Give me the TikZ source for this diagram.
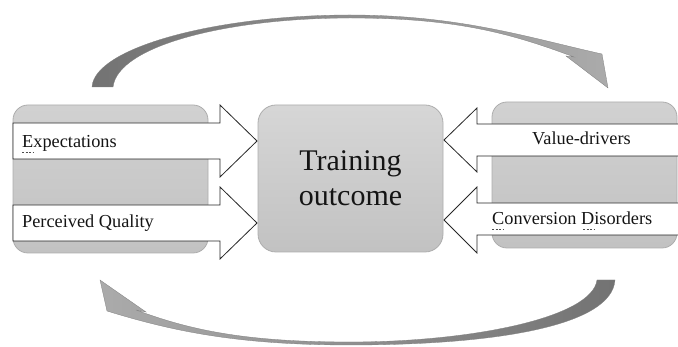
\documentclass[tikz,border=0pt]{standalone}
\usepackage{fontspec}
\setmainfont{Liberation Serif}
\newfontfamily\tnrfont{Liberation Serif}
\begin{document}
\begin{tikzpicture}[x=1pt,y=-1pt]
\useasboundingbox (0,0) rectangle (678,347);
\tikzset{
  sidebox/.style={draw=black!32, top color=black!18, bottom color=black!24, line width=0.8pt, rounded corners=15pt, inner sep=0pt},
  centerbox/.style={draw=black!32, top color=black!16, bottom color=black!24, line width=0.8pt, rounded corners=18pt, align=center, inner sep=0pt, font=\tnrfont\fontsize{30}{35}\selectfont, text=black!92},
  blockarrow/.style={draw=black!85, fill=white, line width=0.8pt, line join=miter},
  lbl/.style={font=\tnrfont\fontsize{18.3}{20}\selectfont, text=black!92, inner sep=0pt},
  squiggle/.style={draw=black!70, line width=0.5pt, dash pattern=on 2pt off 1.5pt},
  cycleedge/.style={draw=black!50, line width=0.3pt}
}
% side boxes and centre box
\node[sidebox, minimum width=195pt, minimum height=148pt] (leftbox) at (110.5,179) {};
\node[sidebox, minimum width=185pt, minimum height=146pt] (rightbox) at (584.5,175) {};
\node[centerbox, minimum width=185pt, minimum height=147pt] (outcome) at (350.5,178.5) {Training\\outcome};

% curved arrows
\shadedraw[cycleedge, left color=black!55, right color=black!33]
  (92,87) .. controls (94,48) and (215,15) .. (350,15)
  .. controls (460,15) and (530,38) .. (602,54)
  -- (608,88) -- (566,56) -- (574,57)
  .. controls (510,33) and (455,18) .. (350,18)
  .. controls (230,18) and (118,45) .. (113,87) -- cycle;
\shadedraw[cycleedge, left color=black!33, right color=black!55]
  (615,280) .. controls (612,325) and (500,345) .. (350,345)
  .. controls (240,345) and (175,332) .. (107,311)
  -- (100,280) -- (146,312) -- (136,310)
  .. controls (190,330) and (245,342) .. (350,342)
  .. controls (470,342) and (592,318) .. (597,280) -- cycle;

% block arrows (left)
\draw[blockarrow] (13,123) -- (220,123) -- (220,105) -- (257,141) -- (220,177) -- (220,159) -- (13,159) -- cycle;
\draw[blockarrow] (13,205) -- (220,205) -- (220,187) -- (257,223) -- (220,259) -- (220,241) -- (13,241) -- cycle;
% block arrows (right)
\draw[blockarrow] (682,124) -- (477,124) -- (477,108) -- (444,140) -- (477,172) -- (477,156) -- (682,156);
\draw[blockarrow] (682,203) -- (477,203) -- (477,187) -- (444,220) -- (477,253) -- (477,235) -- (682,235);

% labels
\node[lbl, anchor=base west] (exp) at (22,148) {Expectations};
\node[lbl, anchor=base west] (pq) at (22,228) {Perceived Quality};
\node[lbl, anchor=base west] (vd) at (532,145) {Value-drivers};
\node[lbl, anchor=base west] (cd) at (492,225) {Conversion Disorders};

% proofing marks under letters
\draw[squiggle] (22,152) -- (33,152);
\draw[squiggle] (492,229) -- (503,229);
\draw[squiggle] (583,229) -- (594,229);
\end{tikzpicture}
\end{document}
